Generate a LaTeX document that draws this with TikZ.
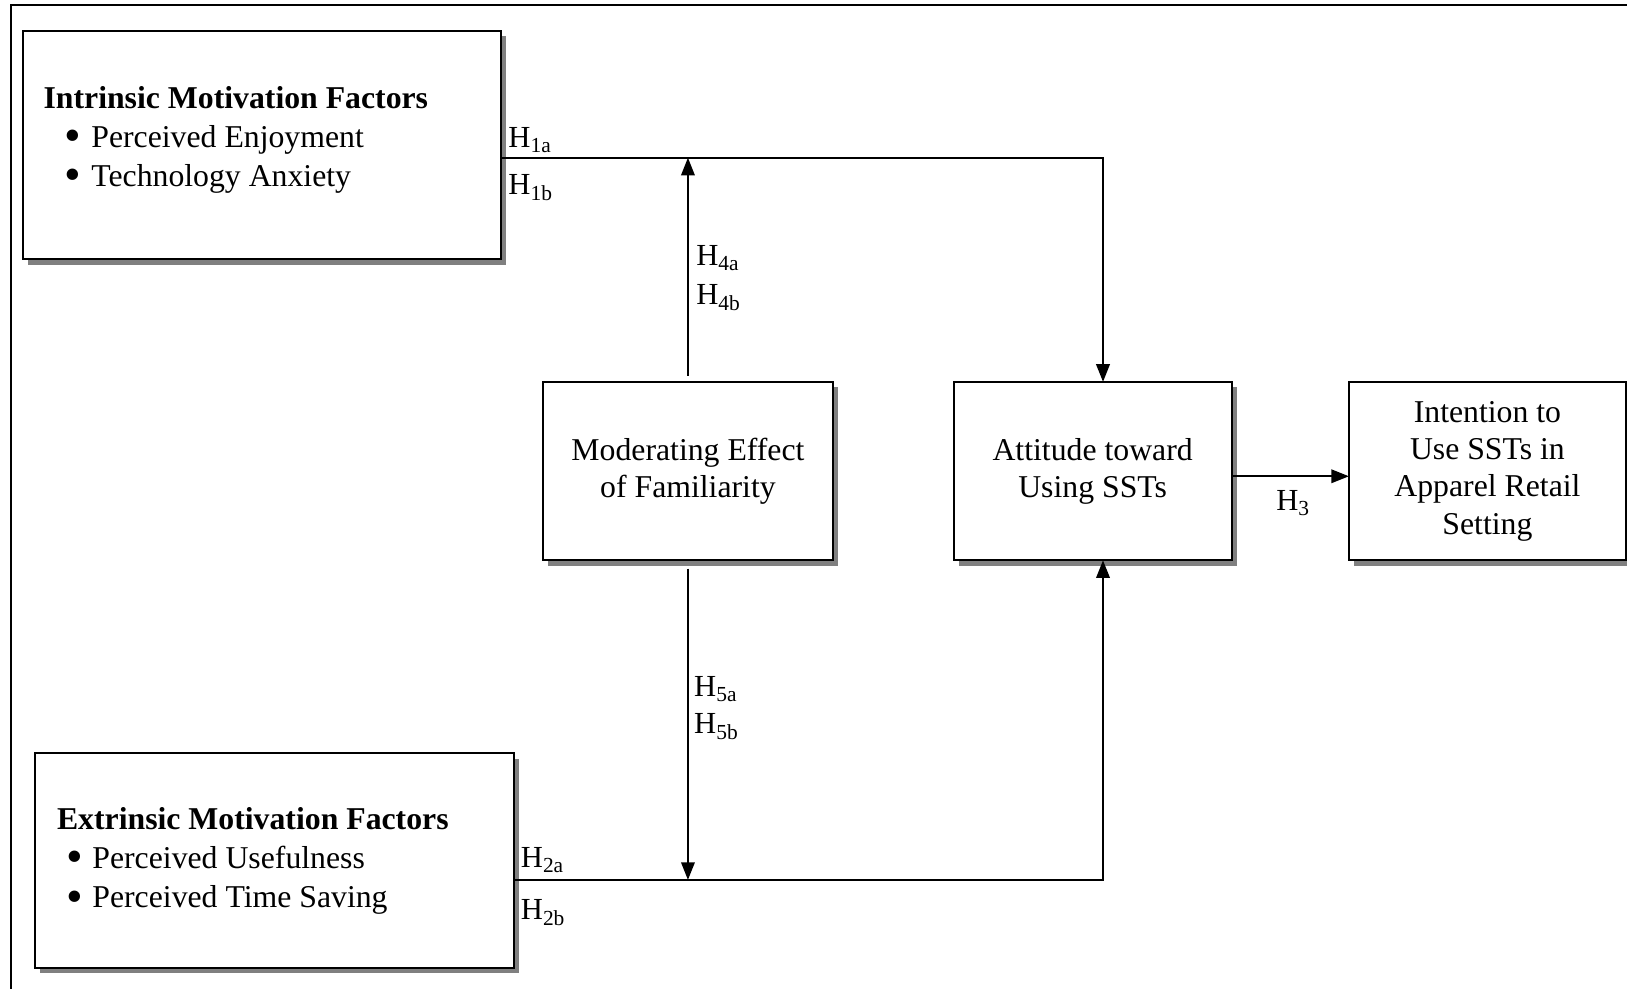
\documentclass[tikz,border=0pt]{standalone}
\usepackage{fontspec}
\setmainfont{Liberation Serif}
\usetikzlibrary{arrows.meta,shadows,calc}
\newcommand{\bigbul}{\smash{\raisebox{-4pt}{\scalebox{1.5}{\textbullet}}}}
\begin{document}
\begin{tikzpicture}[x=1pt,y=-1pt,
  box/.style={draw,line width=2pt,fill=white,inner sep=0pt,outer sep=0pt,align=center,
    font=\fontsize{30.6}{36}\selectfont,
    drop shadow={shadow xshift=5pt,shadow yshift=-5pt,fill=black!50,opacity=1}},
  txt/.style={inner sep=0pt,outer sep=0pt,align=left,font=\fontsize{30.6}{37.7}\selectfont},
  lbl/.style={inner sep=0pt,outer sep=0pt,anchor=base west,font=\fontsize{29.5}{32}\selectfont},
  arr/.style={line width=2pt,-{Triangle[length=17pt,width=13pt]}}]
\useasboundingbox (0,0) rectangle (1568,953);
% outer frame
\draw[line width=2pt] (1575,5) -- (10.5,5) -- (10.5,960);
% boxes
\node[box,minimum width=461pt,minimum height=220pt] (box1) at (252.5,140) {};
\node[box,minimum width=461pt,minimum height=207pt] (box2) at (264.5,829.5) {};
\node[box,minimum width=280pt,minimum height=172pt] (box3) at (663,454) {Moderating Effect\\of Familiarity};
\node[box,minimum width=268pt,minimum height=172pt] (box4) at (1053,454) {Attitude toward\\Using SSTs};
\node[box,minimum width=267pt,minimum height=172pt] (box5) at (1433.5,454) {Intention to\\Use SSTs in\\Apparel Retail\\Setting};
% box texts
\node[txt,anchor=west] (t1) at (42,135) {\textbf{Intrinsic Motivation Factors}\\
  \hspace*{20pt}\bigbul\hspace{10pt}Perceived Enjoyment\\
  \hspace*{20pt}\bigbul\hspace{10pt}Technology Anxiety};
\node[txt,anchor=west] (t2) at (55,830) {\textbf{Extrinsic Motivation Factors}\\
  \hspace*{9pt}\bigbul\hspace{9pt}Perceived Usefulness\\
  \hspace*{9pt}\bigbul\hspace{9pt}Perceived Time Saving};
% junction coordinates
\coordinate (c1) at (1063,152);
\coordinate (c2) at (1063,848);
\coordinate (c3) at (1190,459);
% connectors
\draw[arr] (box1.east |- c1) -- (c1) -- (c1 |- box4.north);
\draw[arr] (box2.east |- c2) -- (c2) -- (c2 |- box4.south);
\draw[arr,shorten <=6pt] (box3.north) -- (box3.north |- c1);
\draw[arr,shorten <=8pt] (box3.south) -- (box3.south |- c2);
\draw[arr] (box4.east |- c3) -- (box5.west |- c3);
% labels
\node[lbl] (h1a) at (490,142) {H\textsubscript{1a}};
\node[lbl] (h1b) at (490,187) {H\textsubscript{1b}};
\node[lbl] (h4a) at (671,256) {H\textsubscript{4a}};
\node[lbl] (h4b) at (671,293) {H\textsubscript{4b}};
\node[lbl] (h5a) at (669,671) {H\textsubscript{5a}};
\node[lbl] (h5b) at (669,707) {H\textsubscript{5b}};
\node[lbl] (h2a) at (502,836) {H\textsubscript{2a}};
\node[lbl] (h2b) at (502,886) {H\textsubscript{2b}};
\node[lbl] (h3) at (1230,492) {H\textsubscript{3}};
\end{tikzpicture}
\end{document}
